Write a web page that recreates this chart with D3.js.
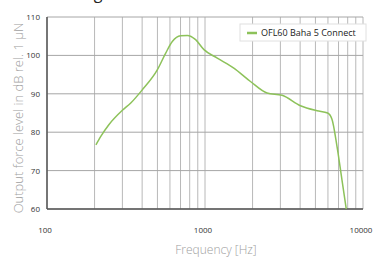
<!DOCTYPE html>
<html>
<head>
<meta charset="utf-8">
<script src="https://cdn.jsdelivr.net/npm/d3@7.9.0/dist/d3.min.js"></script>
<style>
  html, body { margin: 0; padding: 0; background: #fff; }
  svg { display: block; font-family: "Open Sans", sans-serif; }
</style>
</head>
<body>
<svg id="chart" width="375" height="257"></svg>
<script>
// ---- data ----
const seriesName = 'OFL60 Baha 5 Connect';
const freqs = [204, 219, 247, 300, 339, 402, 500, 564, 621, 701, 773, 872, 985, 1196, 1522, 1940, 2471, 3076, 4018, 5118, 5977, 6370, 6845, 7359, 7834];
const levels = [76.7, 78.9, 82.0, 85.7, 87.6, 91.1, 96.3, 100.6, 103.6, 105.1, 105.2, 104.1, 101.5, 99.3, 96.7, 93.2, 90.2, 89.6, 86.9, 85.6, 85.0, 83.3, 76.3, 67.6, 60.0];
const yTicks = [60, 70, 80, 90, 100, 110];
const xLabelTicks = [100, 1000, 10000];
const xGridTicks = [100, 200, 300, 400, 500, 600, 700, 800, 900, 1000,
  2000, 3000, 4000, 5000, 6000, 7000, 8000, 9000, 10000];

// ---- layout ----
const margin = { left: 47, right: 12, top: 17, bottom: 48 };
const svg = d3.select('#chart');

const x = d3.scaleLog().domain([100, 10000]).range([margin.left, 363]);
const y = d3.scaleLinear().domain([60, 110]).range([209, margin.top]);

// clipped title fragment at very top (the reference crops it)
svg.append('text')
  .attr('x', 98).attr('y', -1)
  .attr('text-anchor', 'middle')
  .attr('font-size', 16)
  .attr('fill', '#222')
  .text('g');

// vertical grid
svg.append('g')
  .selectAll('line')
  .data(xGridTicks)
  .join('line')
  .attr('x1', d => x(d)).attr('x2', d => x(d))
  .attr('y1', y(110)).attr('y2', y(60))
  .attr('stroke', '#b8b8b8')
  .attr('stroke-width', 1);

// horizontal grid
svg.append('g')
  .selectAll('line')
  .data(yTicks)
  .join('line')
  .attr('x1', x(100)).attr('x2', x(10000))
  .attr('y1', d => y(d)).attr('y2', d => y(d))
  .attr('stroke', '#a6a6a6')
  .attr('stroke-width', 1);

// axes lines
svg.append('line')
  .attr('x1', x(100)).attr('x2', x(100))
  .attr('y1', y(110)).attr('y2', y(60))
  .attr('stroke', '#555').attr('stroke-width', 1.5);
svg.append('line')
  .attr('x1', x(100)).attr('x2', x(10000))
  .attr('y1', y(60)).attr('y2', y(60))
  .attr('stroke', '#555').attr('stroke-width', 1.5);

// y tick labels
svg.append('g')
  .selectAll('text')
  .data(yTicks)
  .join('text')
  .attr('x', 40)
  .attr('y', d => y(d) + 3)
  .attr('text-anchor', 'end')
  .attr('font-size', 8)
  .attr('fill', '#333')
  .text(d => d);

// x tick labels
svg.append('g')
  .selectAll('text')
  .data(xLabelTicks)
  .join('text')
  .attr('x', d => x(d) - 2)
  .attr('y', 233)
  .attr('text-anchor', 'middle')
  .attr('font-size', 8)
  .attr('fill', '#333')
  .text(d => d);

// axis titles
svg.append('text')
  .attr('x', 216).attr('y', 254)
  .attr('text-anchor', 'middle')
  .attr('font-size', 12)
  .attr('font-weight', 300)
  .attr('fill', '#a0a0a0')
  .text('Frequency [Hz]');

svg.append('text')
  .attr('transform', 'translate(23,118) rotate(-90)')
  .attr('text-anchor', 'middle')
  .attr('font-size', 13)
  .attr('font-weight', 300)
  .attr('fill', '#a0a0a0')
  .text('Output force level in dB rel. 1 µN');

// curve
const line = d3.line()
  .x((d, i) => x(freqs[i]))
  .y(d => y(d))
  .curve(d3.curveMonotoneX);

svg.append('path')
  .datum(levels)
  .attr('d', line)
  .attr('fill', 'none')
  .attr('stroke', '#8dc25a')
  .attr('stroke-width', 1.5);

// legend
const legend = svg.append('g').attr('transform', 'translate(240,24)');
legend.append('rect')
  .attr('width', 126).attr('height', 17)
  .attr('fill', '#fff')
  .attr('stroke', '#e0e0e0');
legend.append('line')
  .attr('x1', 7).attr('x2', 17)
  .attr('y1', 9).attr('y2', 9)
  .attr('stroke', '#8dc25a').attr('stroke-width', 2.5);
legend.append('text')
  .attr('x', 21).attr('y', 12)
  .attr('font-size', 9)
  .attr('fill', '#222')
  .text(seriesName);
</script>
</body>
</html>
